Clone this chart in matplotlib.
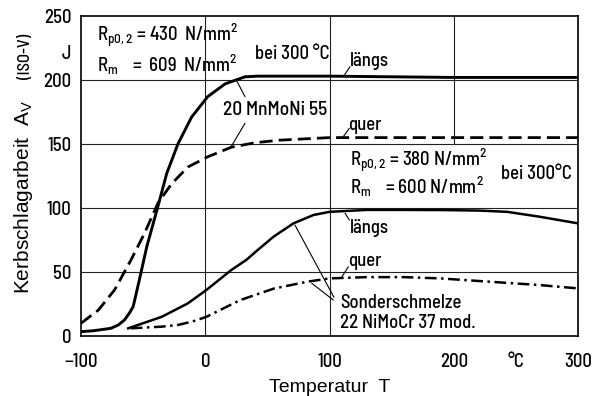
import matplotlib.pyplot as plt

# 20 MnMoNi 55, laengs (solid)
T_MN_LAENGS = [-100, -90, -76, -70, -65, -61, -58, -53, -47, -39, -31, -22, -11, 2, 16, 32, 42, 60, 100, 200, 300]
V_MN_LAENGS = [3.4, 4.1, 6.0, 8.6, 12.5, 18, 23, 44, 70, 98, 127, 150, 171, 187, 197, 202.5, 203, 203, 203, 202, 202]

# 20 MnMoNi 55, quer (dashed)
T_MN_QUER = [-100, -86, -73, -60, -49, -38, -27, -14, 2, 21, 40, 60, 100, 200, 300]
V_MN_QUER = [9.9, 20.3, 36, 59, 80, 104, 119, 132, 140, 147.5, 151, 153, 155, 155, 155]

# Sonderschmelze 22 NiMoCr 37 mod., laengs (solid)
T_NI_LAENGS = [-62, -35, -14, 1, 21, 33, 42, 55, 71, 87, 100, 130, 160, 189, 220, 243, 269, 300]
V_NI_LAENGS = [6, 15, 25.5, 36, 51.6, 59.4, 67, 77.6, 88, 94.5, 97, 98.5, 98.5, 98.4, 98, 97, 93.2, 88]

# Sonderschmelze 22 NiMoCr 37 mod., quer (dash-dot)
T_NI_QUER = [-60, -35, -22, -16, -8, 1, 28, 55, 82, 100, 130, 160, 189, 229, 269, 300]
V_NI_QUER = [6, 7.3, 8.6, 10, 12, 15, 28, 37, 42.4, 45, 46, 46, 45, 42.4, 39.8, 37.2]

X_TICKS = [-100, 0, 100, 200, 250, 300]
X_TICK_LABELS = ["\u2212100", "0", "100", "200", "\u00b0C", "300"]
Y_TICKS = [0, 50, 100, 150, 200, 222, 250]
Y_TICK_LABELS = ["0", "50", "100", "150", "200", "J", "250"]

NARROW = ["Barlow Semi Condensed", "DejaVu Sans"]
REGULAR = ["Liberation Sans", "DejaVu Sans"]

fig = plt.figure(figsize=(6.02, 3.96), dpi=100)
ax = fig.add_axes([81 / 602, 1 - 336 / 396, 497 / 602, 320 / 396])

ax.set_xlim(-100, 300)
ax.set_ylim(0, 250)

# grid lines as in the original print
grid_kw = dict(color="#222222", lw=0.8, zorder=1)
for v in [50, 100, 150, 200]:
    ax.axhline(v, **grid_kw)
for t in [0, 100]:
    ax.axvline(t, **grid_kw)
ax.plot([200, 200], [150, 250], **grid_kw)

ax.plot(T_MN_LAENGS, V_MN_LAENGS, color="black", lw=2.1, solid_capstyle="round", zorder=3)
ax.plot(T_MN_QUER, V_MN_QUER, color="black", lw=2.0, dashes=(4.7, 2.2), zorder=3)
ax.plot(T_NI_LAENGS, V_NI_LAENGS, color="black", lw=1.8, zorder=3)
ax.plot(T_NI_QUER, V_NI_QUER, color="black", lw=1.8, dashes=(4.7, 1.8, 1, 1.8), zorder=3)

for s in ax.spines.values():
    s.set_linewidth(1.2)

ax.set_xticks(X_TICKS)
ax.set_xticklabels(X_TICK_LABELS, family=NARROW, fontsize=13.5, fontweight=500)
ax.set_yticks(Y_TICKS)
ax.set_yticklabels(Y_TICK_LABELS, family=NARROW, fontsize=13.5, fontweight=500)
ax.tick_params(axis="x", length=0, pad=12)
ax.tick_params(axis="y", length=0, pad=7)

ax.set_xlabel("Temperatur  T", family=REGULAR, fontsize=14, labelpad=6)

# y label in pieces (smaller "(ISO-V)")
fig.text(24 / 602, 1 - 294 / 396, r"Kerbschlagarbeit  A$_\mathregular{V}$", rotation=90,
         ha="center", va="bottom", family=REGULAR, fontsize=15)
fig.text(25 / 602, 1 - 79 / 396, "(ISO-V)", rotation=90, ha="center", va="bottom",
         family=NARROW, fontsize=12, fontweight=500)

txt = dict(family=NARROW, fontsize=13.5, fontweight=500, va="center", ha="left")
ax.text(-87.4, 234, r"R$_\mathregular{p0,2}$ = 430  N/mm$^\mathregular{2}$", **txt)
ax.text(-87.4, 212, r"R$_\mathregular{m}$    =  609  N/mm$^\mathregular{2}$", **txt)
ax.text(40, 220, "bei 300 \u00b0C", **txt)
ax.text(56, 176.6, "20 MnMoNi 55", family=NARROW, fontsize=14, fontweight=500, va="center", ha="center")
ax.text(116.5, 214.5, "l\u00e4ngs", **txt)
ax.text(114.9, 164.8, "quer", **txt)
ax.text(116.5, 137, r"R$_\mathregular{p0,2}$ = 380 N/mm$^\mathregular{2}$", **txt)
ax.text(116.5, 117, r"R$_\mathregular{m}$    = 600 N/mm$^\mathregular{2}$", **txt)
ax.text(238, 126.6, "bei 300\u00b0C", **txt)
ax.text(116.5, 84.4, "l\u00e4ngs", **txt)
ax.text(114.9, 58.6, "quer", **txt)
ax.text(108.4, 25.8, "Sonderschmelze", **txt)
ax.text(108.4, 10.2, "22 NiMoCr 37 mod.", **txt)

# leader lines
leaders = [
    ((111.1, 202.6), (116.5, 210.4)),
    ((111.1, 155.7), (116.0, 162.3)),
    ((24.7, 200.5), (32.0, 187.0)),
    ((20.5, 147.4), (32.0, 166.2)),
    ((112.5, 95.9), (116.0, 90.6)),
    ((109.8, 45.9), (115.1, 54.1)),
    ((72.2, 86.7), (103.6, 30.2)),
    ((85.7, 41.2), (103.1, 28.1)),
]
for start, end in leaders:
    ax.annotate("", xy=start, xytext=end,
                arrowprops=dict(arrowstyle="-", color="black", lw=0.8, shrinkA=0, shrinkB=0))

fig.savefig("out.png", dpi=100)
